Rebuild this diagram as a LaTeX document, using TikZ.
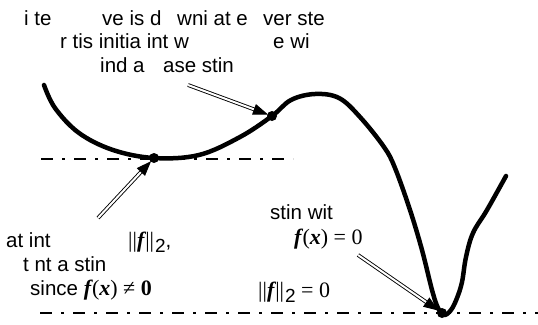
\documentclass[tikz,border=0pt]{standalone}
\usepackage{fontspec}
\setmainfont{Liberation Sans}
\newfontfamily\tmsfont{Liberation Serif}
\usetikzlibrary{arrows.meta}

\newcommand\mth{\tmsfont\fontsize{22}{24}\selectfont}
\newcommand\vf{{\mth\bfseries\itshape f\kern1pt}}
\newcommand\vx{{\mth\bfseries\itshape x}}
\newcommand\nrm{{\mth||}\vf{\mth||}\kern1pt\raisebox{-5pt}{\fontsize{19}{19}\selectfont 2}}

\begin{document}
\begin{tikzpicture}[
    x=1pt, y=-1pt,
    lbl/.style={font=\fontsize{20.5}{24}\selectfont, inner sep=0pt, anchor=base west},
    curveline/.style={line width=4.5pt, line join=round, line cap=round},
    refline/.style={line width=2.5pt, dash pattern=on 12pt off 9pt on 3pt off 9pt},
    ptr/.style={double, double distance=2pt, line width=0.9pt, -{Triangle[length=15pt,width=11pt]}, shorten >=-1pt},
    dotpt/.style={circle, fill, inner sep=0pt, minimum size=10pt},
]
\useasboundingbox (0,0) rectangle (538,324);

% reference levels
\coordinate (up1) at (41,159);
\coordinate (up2) at (293,159);
\coordinate (lo1) at (40,313);
\coordinate (lo2) at (538,313);
\draw[refline] (up1) -- (up2);
\draw[refline] (lo1) -- (lo2);

% the curve
\draw[curveline] plot[smooth, tension=0.6] coordinates {
    (44,85) (55,108) (79,133) (113,150) (154,158) (199,155) (240,137)
    (272,116) (291,100) (315,94) (339,98) (360,117) (384,147) (395,168)
    (410,210) (422,250) (432,290) (438,308) (444,315) (451,310) (457,298)
    (462,282) (466,257) (473,233) (487,210) (506,176)};

% points on the curve
\node[dotpt] (d1) at (154,158) {};
\node[dotpt] (d2) at (272,116) {};
\node[dotpt] (d3) at (442,313) {};

% texts
\node[lbl] (t1a) at (24,25) {i te};
\node[lbl] (t1b) at (102,25) {ve is d};
\node[lbl] (t1c) at (177,25) {wni at e};
\node[lbl] (t1d) at (263,25) {ver ste};
\node[lbl] (t2a) at (60,48) {r tis initia int w};
\node[lbl] (t2b) at (273,48) {e wi};
\node[lbl] (t3a) at (100,72) {ind a};
\node[lbl] (t3b) at (163,72) {ase stin};

\node[lbl] (l1a) at (6,247) {at int};
\node[lbl] (l1b) at (128,247) {\nrm,};
\node[lbl] (l2) at (23,271) {t nt a stin};
\node[lbl] (l3) at (30,295) {since \vf{\mth(}\vx{\mth) ≠ \bfseries 0}};

\node[lbl] (r1) at (270,219) {stin wit};
\node[lbl] (r2) at (294,244) {\vf{\mth(}\vx{\mth) = 0}};
\node[lbl] (r3) at (258,297) {\nrm{\mth\ = 0}};

% pointers
\coordinate (p1) at (98,218);
\coordinate (p2) at (188,85);
\coordinate (p3) at (358,255);
\draw[ptr] (p1) -- (d1);
\draw[ptr] (p2) -- (d2);
\draw[ptr] (p3) -- (d3);

\end{tikzpicture}
\end{document}
